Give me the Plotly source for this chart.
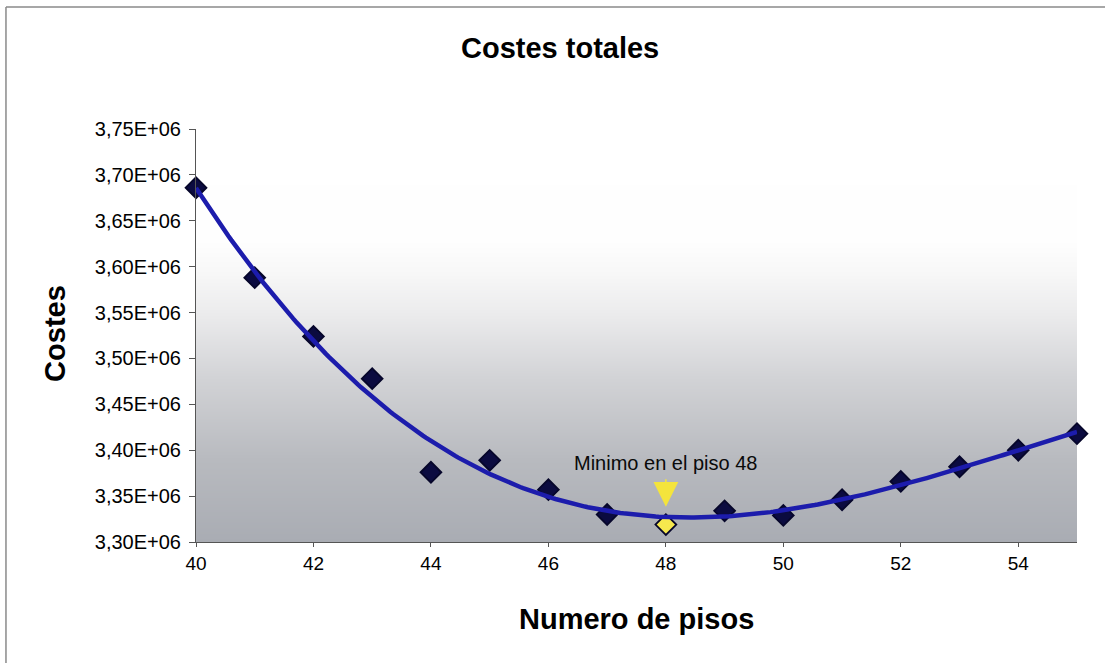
import numpy as np
import plotly.graph_objects as go

# Total cost per number of floors
floors = [40, 41, 42, 43, 44, 45, 46, 47, 48, 49, 50, 51, 52, 53, 54, 55]
costs = [3.686e6, 3.588e6, 3.524e6, 3.478e6, 3.376e6, 3.389e6, 3.357e6, 3.330e6,
         3.319e6, 3.334e6, 3.329e6, 3.346e6, 3.366e6, 3.382e6, 3.400e6, 3.418e6]

x_ticks = [40, 42, 44, 46, 48, 50, 52, 54]
y_ticks = [3.30e6, 3.35e6, 3.40e6, 3.45e6, 3.50e6, 3.55e6, 3.60e6, 3.65e6, 3.70e6, 3.75e6]
y_ticktext = ["3,30E+06", "3,35E+06", "3,40E+06", "3,45E+06", "3,50E+06",
              "3,55E+06", "3,60E+06", "3,65E+06", "3,70E+06", "3,75E+06"]

FONT = "Liberation Sans, Arial, sans-serif"
y_lo, y_hi = 3.30e6, 3.75e6

# index of the cheapest option
i_min = int(np.argmin(costs))
min_floor = floors[i_min]

# polynomial trend line through the points
coef = np.polyfit(floors, costs, 3)
xs = np.linspace(floors[0], floors[-1], 300)
ys = np.polyval(coef, xs)

fig = go.Figure()

# vertical white-to-grey plot-area gradient
grad_y = np.linspace(3.28e6, 3.77e6, 60)
fig.add_trace(go.Heatmap(
    x=[39, 56], y=grad_y, z=[[v, v] for v in grad_y],
    zmin=y_lo, zmax=y_hi, zsmooth="best", showscale=False, hoverinfo="skip",
    colorscale=[[0.0, "#a9acb3"], [0.2, "#b8babf"], [0.4, "#d2d3d6"],
                [0.55, "#ebebec"], [0.65, "#f7f7f7"], [0.73, "#fefefe"], [1.0, "#ffffff"]],
))

marker_colors = ["#0b0b40"] * len(floors)
marker_colors[i_min] = "#f6e84e"

fig.add_trace(go.Scatter(
    x=floors, y=costs, mode="markers", cliponaxis=False,
    marker=dict(symbol="diamond", size=16, color=marker_colors,
                line=dict(color="#06062a", width=1.8)),
    showlegend=False,
))

fig.add_trace(go.Scatter(
    x=xs, y=ys, mode="lines", cliponaxis=False,
    line=dict(color="#1c1cac", width=4.5), showlegend=False, hoverinfo="skip",
))

annotations = [
    dict(text="<b>Costes totales</b>", xref="paper", yref="paper", x=0.413, y=1.196,
         xanchor="center", yanchor="middle", showarrow=False,
         font=dict(family=FONT, size=29, color="#000000")),
    dict(text="<b>Numero de pisos</b>", xref="paper", yref="paper", x=0.5, y=-0.186,
         xanchor="center", yanchor="middle", showarrow=False,
         font=dict(family=FONT, size=29, color="#000000")),
    dict(text="<b>Costes</b>", xref="paper", yref="paper", x=-0.16, y=0.504,
         xanchor="center", yanchor="middle", textangle=-90, showarrow=False,
         font=dict(family=FONT, size=29, color="#000000")),
    dict(text=f"Minimo en el piso {min_floor}", x=min_floor, y=3.386e6,
         xanchor="center", yanchor="middle", showarrow=False,
         font=dict(family=FONT, size=20, color="#0a0a0a")),
    dict(text="", x=min_floor, y=3.3385e6, ax=0, ay=-29, showarrow=True,
         arrowhead=2, arrowsize=3.3, arrowwidth=1.5, arrowcolor="#f4e43c"),
]

fig.update_layout(
    width=1105, height=663,
    margin=dict(l=196, r=28, t=129, b=121),
    paper_bgcolor="#ffffff", plot_bgcolor="#ffffff",
    showlegend=False,
    annotations=annotations,
    shapes=[
        dict(type="line", xref="paper", yref="paper", x0=-0.2157, x1=-0.2157, y0=1.2954, y1=-0.4,
             line=dict(color="#8a8a8a", width=1.5)),
        dict(type="line", xref="paper", yref="paper", x0=-0.2157, x1=1.1, y0=1.2954, y1=1.2954,
             line=dict(color="#8a8a8a", width=1.5)),
    ],
    xaxis=dict(range=[40, 55], tickvals=x_ticks, ticks="outside", ticklen=4,
               tickcolor="#555555", showline=True, linecolor="#555555", linewidth=1,
               showgrid=False, zeroline=False,
               tickfont=dict(family=FONT, size=19, color="#000000")),
    yaxis=dict(range=[y_lo, y_hi], tickvals=y_ticks, ticktext=y_ticktext,
               ticks="outside", ticklen=6, tickcolor="#555555", ticklabelstandoff=4,
               showline=True, linecolor="#555555", linewidth=1,
               showgrid=False, zeroline=False,
               tickfont=dict(family=FONT, size=20, color="#000000")),
)

fig.write_html("out.html")
